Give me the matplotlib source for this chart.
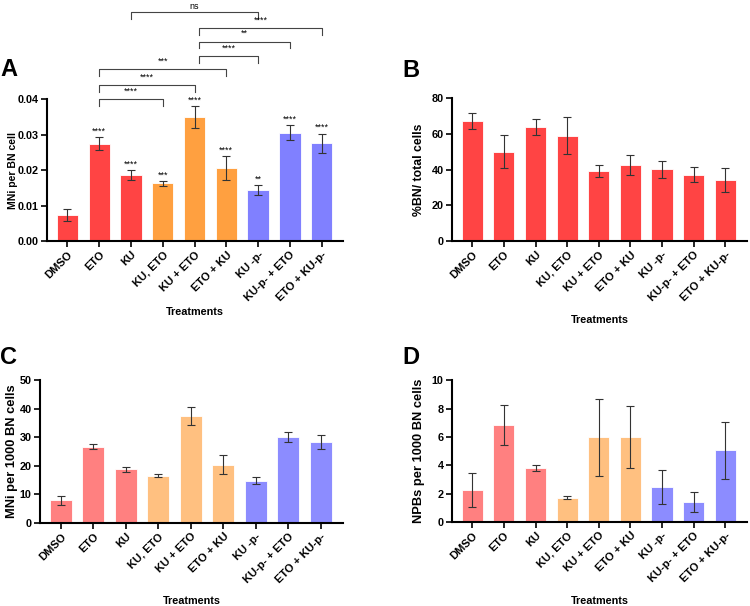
import matplotlib
matplotlib.use("Agg")
import matplotlib.pyplot as plt

plt.rcParams['font.family'] = ['Liberation Sans', 'DejaVu Sans']
plt.rcParams['font.weight'] = 'bold'

treatments = ["DMSO", "ETO", "KU", "KU, ETO", "KU + ETO", "ETO + KU",
              "KU -p-", "KU-p- + ETO", "ETO + KU-p-"]

# panel A: MNi per BN cell
mni_bn = [0.0074, 0.0275, 0.0186, 0.0163, 0.0350, 0.0205, 0.0145, 0.0306, 0.0276]
mni_bn_err = [0.0016, 0.0019, 0.0014, 0.0007, 0.0031, 0.0034, 0.0014, 0.0020, 0.0027]
mni_stars = ["", "****", "****", "***", "****", "****", "**", "****", "****"]
# comparisons: (from, to, bracket height, label)
comparisons = [(1, 3, 0.0400, "****"), (1, 4, 0.0439, "****"), (1, 5, 0.0484, "***"),
               (4, 6, 0.0521, "****"), (4, 7, 0.0562, "**"), (4, 8, 0.0600, "****"),
               (2, 6, 0.0646, "ns")]

# panel B: %BN / total cells
bn_pct = [67.3, 50.1, 63.9, 58.9, 39.2, 42.8, 40.2, 37.3, 34.2]
bn_pct_err = [4.3, 9.4, 4.3, 10.3, 3.2, 5.6, 4.6, 4.4, 6.5]

# panel C: MNi per 1000 BN cells
mni_1000 = [7.9, 26.7, 18.7, 16.5, 37.3, 20.3, 14.8, 30.2, 28.3]
mni_1000_err = [1.6, 0.9, 0.75, 0.5, 3.2, 3.3, 1.3, 1.75, 2.3]

# panel D: NPBs per 1000 BN cells
npb_1000 = [2.25, 6.82, 3.81, 1.70, 5.96, 5.98, 2.45, 1.43, 5.05]
npb_1000_err = [1.2, 1.4, 0.24, 0.1, 2.7, 2.2, 1.2, 0.7, 2.0]

dark = ["#FF4444", "#FF4444", "#FF4444", "#FFA040", "#FFA040", "#FFA040",
        "#8080FF", "#8080FF", "#8080FF"]
light = ["#FF8080", "#FF8080", "#FF8080", "#FFC080", "#FFC080", "#FFC080",
         "#8C8CFF", "#8C8CFF", "#8C8CFF"]
allred = ["#FF4444"] * 9

fig = plt.figure(figsize=(7.5, 6.06), dpi=100)
axA = fig.add_axes([0.0627, 0.602, 0.395, 0.2343])
axB = fig.add_axes([0.6027, 0.602, 0.393, 0.236])
axC = fig.add_axes([0.0533, 0.137, 0.404, 0.236])
axD = fig.add_axes([0.6027, 0.1386, 0.393, 0.234])


def draw_panel(ax, vals, errs, colors, ylim, yticks, ylabel, ylab_x, ylab_size, xlab_y, fmt):
    x = range(len(vals))
    ax.bar(x, vals, width=0.67, color=colors, edgecolor="white", linewidth=0.6)
    ax.errorbar(x, vals, yerr=errs, fmt="none", ecolor="#333333", elinewidth=0.8,
                capsize=2.8, capthick=0.8)
    ax.set_ylim(ylim)
    ax.set_xlim(-0.64, 8.68)
    ax.set_yticks(yticks)
    ax.set_yticklabels([fmt.format(v) for v in yticks], fontsize=7.8, fontweight="bold")
    ax.set_xticks(list(x))
    ax.set_xticklabels(treatments, rotation=45, ha="right", rotation_mode="anchor",
                       fontsize=8, fontweight="bold")
    for s in ["top", "right"]:
        ax.spines[s].set_visible(False)
    for s in ["left", "bottom"]:
        ax.spines[s].set_linewidth(1.5)
    ax.tick_params(width=1.2, length=4, pad=2)
    ax.set_ylabel(ylabel, fontsize=ylab_size, fontweight="bold")
    ax.yaxis.set_label_coords(ylab_x, 0.5)
    ax.set_xlabel("Treatments", fontsize=7.8, fontweight="bold")
    ax.xaxis.set_label_coords(0.5, xlab_y)


draw_panel(axA, mni_bn, mni_bn_err, dark, (0, 0.04), [0, 0.01, 0.02, 0.03, 0.04],
           "MNi per BN cell", -0.098, 7.5, -0.465, "{:.2f}")
draw_panel(axB, bn_pct, bn_pct_err, allred, (0, 80), [0, 20, 40, 60, 80],
           "%BN/ total cells", -0.092, 8.8, -0.515, "{:g}")
draw_panel(axC, mni_1000, mni_1000_err, light, (0, 50), [0, 10, 20, 30, 40, 50],
           "MNi per 1000 BN cells", -0.073, 9.3, -0.51, "{:g}")
draw_panel(axD, npb_1000, npb_1000_err, light, (0, 10), [0, 2, 4, 6, 8, 10],
           "NPBs per 1000 BN cells", -0.092, 9.3, -0.52, "{:g}")

# significance stars over bars in A
for i, s in enumerate(mni_stars):
    if s:
        axA.text(i, mni_bn[i] + mni_bn_err[i] + 0.0004, s, ha="center", va="bottom",
                 fontsize=6.5, fontweight="normal")

# comparison brackets in A
tick = 0.0019
for a, b, h, lab in comparisons:
    xa = a + 0.15 if a == 4 else a
    axA.plot([xa, xa, b, b], [h - tick, h, h, h - tick], color="#444444", lw=0.8,
             clip_on=False)
    gap = 0.0002 if lab == "ns" else 0.0010
    axA.text((xa + b) / 2, h + gap, lab, ha="center", va="bottom",
             fontsize=6.5, fontweight="normal", clip_on=False)

fig.text(0.0, 0.885, "A", fontsize=17, fontweight="bold", va="center")
fig.text(0.536, 0.883, "B", fontsize=17, fontweight="bold", va="center")
fig.text(0.0, 0.41, "C", fontsize=17, fontweight="bold", va="center")
fig.text(0.536, 0.41, "D", fontsize=17, fontweight="bold", va="center")

fig.savefig("out.png", dpi=100)
